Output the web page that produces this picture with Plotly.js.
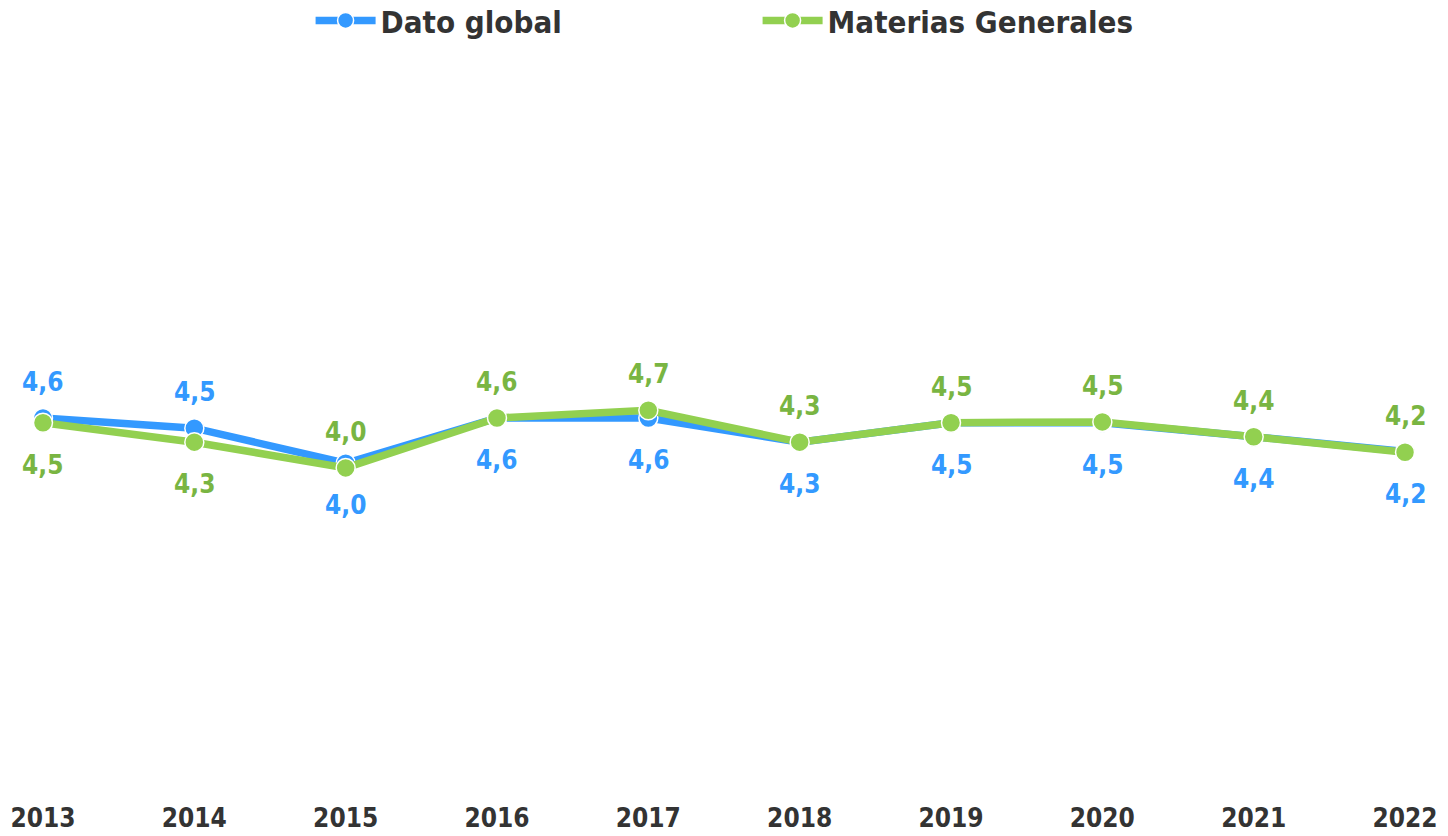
<!DOCTYPE html>
<html>
<head>
<meta charset="utf-8">
<script src="https://cdn.plot.ly/plotly-3.0.1.min.js"></script>
<style>html,body{margin:0;padding:0;background:#fff;}#chart{width:1448px;height:836px;}</style>
</head>
<body>
<div id="chart"></div>
<script>
const years = ["2013","2014","2015","2016","2017","2018","2019","2020","2021","2022"];
const datoGlobal = [4.60, 4.47, 4.02, 4.60, 4.60, 4.29, 4.54, 4.54, 4.36, 4.17];
const materiasGenerales = [4.54, 4.29, 3.96, 4.60, 4.70, 4.29, 4.54, 4.55, 4.36, 4.16];
const datoLabels = ["4,6","4,5","4,0","4,6","4,6","4,3","4,5","4,5","4,4","4,2"];
const materiasLabels = ["4,5","4,3","4,0","4,6","4,7","4,3","4,5","4,5","4,4","4,2"];
// label placement: +1 above, -1 below
const datoSide = [1,1,-1,-1,-1,-1,-1,-1,-1,-1];
const materiasSide = [-1,-1,1,1,1,1,1,1,1,1];

const FONT = '"DejaVu Sans Condensed", "DejaVu Sans", sans-serif';
const BLUE = '#3399FF';
const GREEN = '#92D050';
const BLUE_TXT = '#3399FF';
const GREEN_TXT = '#79B542';

const traces = [
  {
    x: years, y: datoGlobal, name: 'Dato global', type: 'scatter', mode: 'lines+markers',
    line: {color: BLUE, width: 7.5},
    marker: {color: BLUE, size: 19, line: {color: '#ffffff', width: 1.5}},
    hoverinfo: 'skip'
  },
  {
    x: years, y: materiasGenerales, name: 'Materias Generales', type: 'scatter', mode: 'lines+markers',
    line: {color: GREEN, width: 7.5},
    marker: {color: GREEN, size: 19, line: {color: '#ffffff', width: 1.5}},
    hoverinfo: 'skip'
  }
];

const annotations = [];
function addLabels(vals, labels, sides, color) {
  vals.forEach((v, i) => {
    annotations.push({
      x: i, y: v, xref: 'x', yref: 'y', text: '<b>' + labels[i] + '</b>',
      showarrow: false, yshift: sides[i] > 0 ? 36 : -42,
      font: {family: FONT, size: 26, color: color}
    });
  });
}
addLabels(datoGlobal, datoLabels, datoSide, BLUE_TXT);
addLabels(materiasGenerales, materiasLabels, materiasSide, GREEN_TXT);

const layout = {
  width: 1448, height: 836,
  margin: {l: 0, r: 0, t: 75, b: 36, autoexpand: false},
  paper_bgcolor: '#ffffff', plot_bgcolor: '#ffffff',
  showlegend: true,
  legend: {
    orientation: 'h', x: 0.2145, xanchor: 'left', y: 1.112, yanchor: 'top',
    yref: 'paper',
    font: {family: FONT, size: 31, color: '#333333', weight: 'bold'},
    itemwidth: 60, entrywidth: 372, entrywidthmode: 'pixels',
    bgcolor: 'rgba(0,0,0,0)'
  },
  xaxis: {
    type: 'category', range: [-0.284, 9.284],
    showgrid: false, zeroline: false, showline: false, ticks: '',
    tickfont: {family: FONT, size: 26, color: '#333333', weight: 'bold'},
    fixedrange: true
  },
  yaxis: {
    range: [-0.3, 9.0], visible: false, showgrid: false, zeroline: false, fixedrange: true
  },
  annotations: annotations
};

Plotly.newPlot('chart', traces, layout, {displayModeBar: false, staticPlot: true});
</script>
</body>
</html>
